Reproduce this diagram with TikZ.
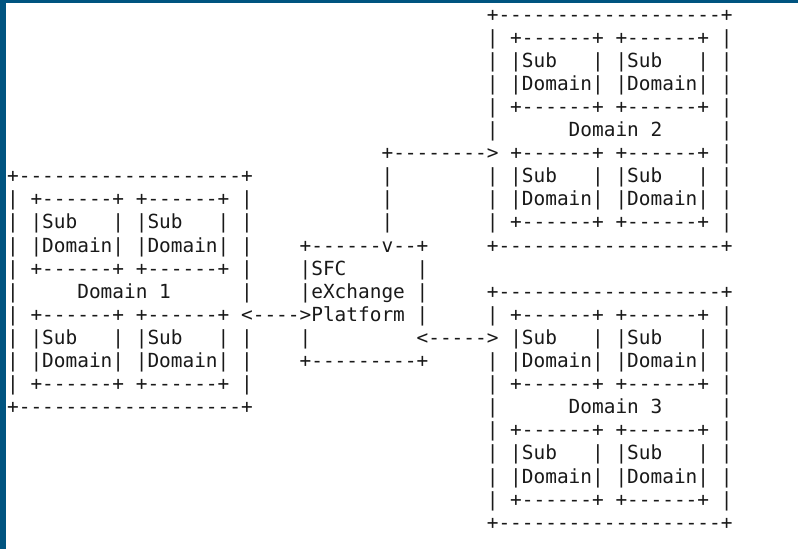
\documentclass[tikz,border=0pt]{standalone}
\usepackage{fontspec}
\setmonofont{DejaVu Sans Mono}
\definecolor{frameblue}{RGB}{0,84,128}
\definecolor{ink}{RGB}{25,25,25}
\newcommand{\asciifont}{\ttfamily\fontsize{19.43}{23.1}\selectfont}

\begin{document}
\begin{tikzpicture}[ x = 11.7pt, y = -23.1pt,
        txt/.style = { anchor = base west, inner sep = 0pt, outer sep = 0pt, font = \asciifont, text = ink } ]
        % поле и рамка
        \useasboundingbox ( 0pt, 0pt ) rectangle ( 798pt, -549pt );
        \fill [white] ( 0pt, 0pt ) rectangle ( 798pt, -549pt );
        \fill [frameblue] ( 0pt, 0pt ) rectangle ( 6pt, -549pt );
        \fill [frameblue] ( 0pt, 0pt ) rectangle ( 798pt, -3pt );

        \begin{scope}[ shift = {( 7.15pt, -21pt )} ]
        % домен 1
        \foreach \n/\txt in { 7/{+-------------------+}, 8/{|~+------+~+------+~|}, 9/{|~|Sub~~~|~|Sub~~~|~|},
                10/{|~|Domain|~|Domain|~|}, 11/{|~+------+~+------+~|}, 12/{|~~~~~Domain~1~~~~~~|},
                13/{|~+------+~+------+}, 14/{|~|Sub~~~|~|Sub~~~|~|}, 15/{|~|Domain|~|Domain|~|},
                16/{|~+------+~+------+~|}, 17/{+-------------------+} }
            \node [txt] ( dom1-\n ) at ( 0, \n ) {\txt};

        % домен 2
        \foreach \n/\txt in { 0/{+-------------------+}, 1/{|~+------+~+------+~|}, 2/{|~|Sub~~~|~|Sub~~~|~|},
                3/{|~|Domain|~|Domain|~|}, 4/{|~+------+~+------+~|}, 5/{|~~~~~~Domain~2~~~~~|},
                7/{|~|Sub~~~|~|Sub~~~|~|}, 8/{|~|Domain|~|Domain|~|}, 9/{|~+------+~+------+~|},
                10/{+-------------------+} }
            \node [txt] ( dom2-\n ) at ( 41, \n ) {\txt};
        \node [txt] ( dom2-6 ) at ( 43, 6 ) {+------+~+------+~|};

        % домен 3
        \foreach \n/\txt in { 12/{+-------------------+}, 13/{|~+------+~+------+~|},
                15/{|~|Domain|~|Domain|~|}, 16/{|~+------+~+------+~|}, 17/{|~~~~~~Domain~3~~~~~|},
                18/{|~+------+~+------+~|}, 19/{|~|Sub~~~|~|Sub~~~|~|}, 20/{|~|Domain|~|Domain|~|},
                21/{|~+------+~+------+~|}, 22/{+-------------------+} }
            \node [txt] ( dom3-\n ) at ( 41, \n ) {\txt};
        \node [txt] ( dom3-14 ) at ( 43, 14 ) {|Sub~~~|~|Sub~~~|~|};

        % платформа SFC
        \node [txt] ( sfc-10a ) at ( 25, 10 ) {+------};
        \node [txt] ( sfc-10b ) at ( 33, 10 ) {--+};
        \node [txt] ( sfc-11 ) at ( 25, 11 ) {|SFC~~~~~~|};
        \node [txt] ( sfc-12 ) at ( 25, 12 ) {|eXchange~|};
        \node [txt] ( sfc-13 ) at ( 26, 13 ) {Platform~|};
        \node [txt] ( sfc-14 ) at ( 25, 14 ) {|};
        \node [txt] ( sfc-15 ) at ( 25, 15 ) {+---------+};

        % связь с доменом 2
        \node [txt] ( up-6 ) at ( 32, 6 ) {+-------->};
        \foreach \n in { 7, 8, 9 }
            \node [txt] ( up-\n ) at ( 32, \n ) {|};
        \node [txt] ( up-10 ) at ( 32, 10 ) {v};

        % связь с доменом 1
        \node [txt] ( left-13 ) at ( 20, 13 ) {<---->};

        % связь с доменом 3
        \node [txt] ( right-14 ) at ( 35, 14 ) {<----->};
        \end{scope}
\end{tikzpicture}
\end{document}
